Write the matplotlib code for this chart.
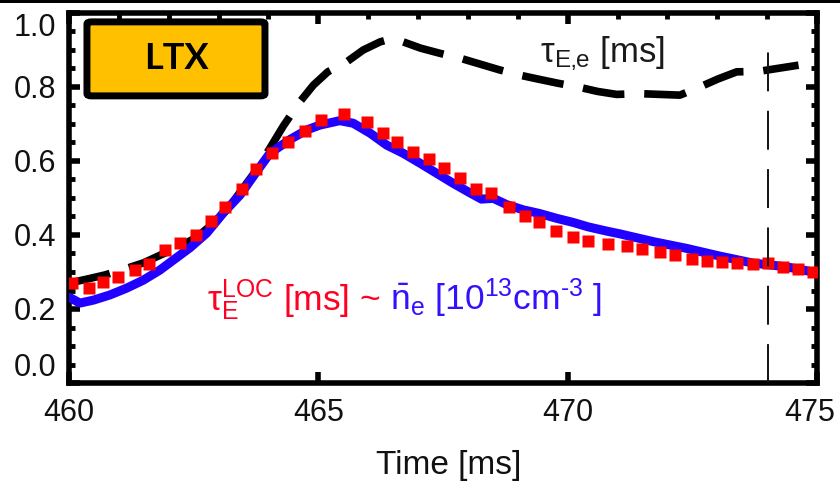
import numpy as np
import matplotlib
matplotlib.use("Agg")
import matplotlib.pyplot as plt
from matplotlib.patches import FancyBboxPatch, Rectangle
from matplotlib.ticker import MultipleLocator
from matplotlib.transforms import ScaledTranslation

plt.rcParams["font.family"] = ["Liberation Sans", "DejaVu Sans"]
plt.rcParams["mathtext.fontset"] = "custom"
plt.rcParams["mathtext.rm"] = "Liberation Sans"
plt.rcParams["mathtext.it"] = "Liberation Sans:italic"
plt.rcParams["mathtext.default"] = "regular"

# tau_E,e [ms] (black dashed)
tau_ee_t = [460.00, 460.40, 460.72, 461.16, 461.50, 461.82, 462.20, 462.55, 462.90,
            463.29, 463.70, 464.03, 464.30, 464.63, 464.90, 465.19, 465.57, 465.90,
            466.24, 466.45, 466.70, 467.05, 467.44, 467.84, 468.24, 468.64, 469.04,
            469.42, 469.81, 470.21, 470.60, 470.98, 471.45, 471.85, 472.25, 472.65,
            473.02, 473.39, 473.82, 474.20, 474.63]
tau_ee = [0.270, 0.282, 0.292, 0.310, 0.325, 0.345, 0.368, 0.393, 0.432,
          0.490, 0.565, 0.635, 0.695, 0.760, 0.805, 0.841, 0.868, 0.900,
          0.922, 0.930, 0.922, 0.905, 0.891, 0.878, 0.862, 0.846, 0.832,
          0.821, 0.810, 0.800, 0.788, 0.780, 0.782, 0.780, 0.778, 0.800,
          0.822, 0.841, 0.842, 0.850, 0.859]

# line-averaged density n_e [1e13 cm^-3] (blue)
ne_t = [460.00, 460.22, 460.49, 460.82, 461.15, 461.49, 461.82, 462.09, 462.43,
        462.76, 463.09, 463.43, 463.76, 464.03, 464.43, 464.77, 465.03, 465.43,
        465.70, 466.04, 466.37, 466.70, 467.04, 467.37, 467.70, 468.00, 468.27,
        468.51, 468.78, 469.11, 469.44, 469.78, 470.11, 470.41, 470.80, 471.05,
        471.72, 472.38, 473.05, 473.72, 474.39, 474.92, 475.00]
ne = [0.232, 0.216, 0.224, 0.238, 0.256, 0.278, 0.305, 0.332, 0.366,
      0.405, 0.459, 0.508, 0.571, 0.621, 0.658, 0.684, 0.697, 0.709,
      0.702, 0.675, 0.643, 0.621, 0.594, 0.567, 0.540, 0.517, 0.497,
      0.499, 0.482, 0.468, 0.458, 0.445, 0.434, 0.422, 0.410, 0.403,
      0.382, 0.364, 0.343, 0.324, 0.314, 0.300, 0.298]

# tau_E^LOC [ms] (red squares)
loc_t = [460.07, 460.41, 460.69, 460.99, 461.32, 461.61, 461.93, 462.23, 462.55,
         462.84, 463.13, 463.46, 463.76, 464.08, 464.40, 464.73, 465.06, 465.51,
         465.97, 466.29, 466.58, 466.90, 467.22, 467.52, 467.85, 468.16, 468.46,
         468.82, 469.14, 469.43, 469.76, 470.11, 470.41, 470.80, 471.19, 471.49,
         471.85, 472.15, 472.49, 472.79, 473.09, 473.39, 473.72, 474.02, 474.32,
         474.62, 474.92]
tau_loc = [0.271, 0.256, 0.274, 0.286, 0.305, 0.322, 0.359, 0.378, 0.400,
           0.438, 0.475, 0.524, 0.578, 0.622, 0.650, 0.681, 0.710, 0.727,
           0.706, 0.675, 0.650, 0.625, 0.605, 0.580, 0.555, 0.524, 0.513,
           0.477, 0.452, 0.436, 0.412, 0.395, 0.385, 0.376, 0.369, 0.362,
           0.355, 0.346, 0.335, 0.331, 0.326, 0.323, 0.321, 0.323, 0.313,
           0.308, 0.301]

t_marker = 474.02
xticks = [460, 465, 470, 475]
yticks = [0.0, 0.2, 0.4, 0.6, 0.8, 1.0]

fig = plt.figure(figsize=(8.4, 4.82), dpi=100)
ax = fig.add_axes([69 / 840, 99 / 482, 748 / 840, 370 / 482])

ax.plot(tau_ee_t, tau_ee, color="black", lw=5.5, linestyle=(0, (5.5, 2.6)), zorder=2)
ax.plot(ne_t, ne, color="#2200ff", lw=6.5, solid_capstyle="round", zorder=3)
ax.plot(loc_t, tau_loc, "s", color="#ff0000", ms=9.3, mec="none", zorder=4)
ax.axvline(t_marker, ymin=0, ymax=0.945, color="#111111", lw=1.4,
           linestyle=(0, (20, 10)), zorder=5)

ax.set_xlim(460, 475)
ax.set_ylim(0, 1.0)
ax.set_xticks(xticks)
ax.set_xticklabels([str(v) for v in xticks])
ax.set_yticks(yticks)
ax.set_yticklabels([f"{v:.1f}" for v in yticks])
ax.xaxis.set_minor_locator(MultipleLocator(1))
ax.yaxis.set_minor_locator(MultipleLocator(0.05))

for sp in ax.spines.values():
    sp.set_linewidth(4)
ax.tick_params(which="both", direction="in", top=True, right=True,
               labelsize=22, labelcolor="#111111")
ax.tick_params(which="major", length=8, width=4)
ax.tick_params(which="minor", length=4.5, width=3.5)
ax.tick_params(axis="x", which="minor", bottom=False)
ax.tick_params(axis="x", which="major", pad=11)
ax.tick_params(axis="y", which="major", pad=9)

yt = ax.yaxis.get_major_ticks()
yt[0].label1.set_va("bottom")
yt[-1].label1.set_va("top")
xt = ax.xaxis.get_major_ticks()
last = xt[-1].label1
last.set_transform(last.get_transform() + ScaledTranslation(-7 / 100, 0, fig.dpi_scale_trans))

ax.set_xlabel("Time [ms]", fontsize=24, color="#111111")
ax.xaxis.set_label_coords(0.507, -0.182)

box = FancyBboxPatch((0.024, 0.776), 0.238, 0.200, transform=ax.transAxes,
                     boxstyle="round,pad=0,rounding_size=0.006",
                     facecolor="#ffc000", edgecolor="black", lw=5, zorder=6)
ax.add_patch(box)
ax.text(0.143, 0.878, "LTX", transform=ax.transAxes, ha="center", va="center",
        fontsize=26, fontweight="bold", family="Lato", color="black", zorder=7)

ax.text(0.63, 0.868, "$\\tau_{E\u201ae}$ [ms]", transform=ax.transAxes,
        ha="left", va="baseline", fontsize=25, color="#1a1a1a", zorder=7)

red = ax.text(0.1845, 0.197, r"$\tau_{E}^{LOC}$ [ms] ~", transform=ax.transAxes,
              ha="left", va="baseline", fontsize=25.5, color="#ff0022", zorder=7)
fig.canvas.draw()
bb = red.get_window_extent()
x_blue = ax.transAxes.inverted().transform((bb.x1 + 9, bb.y0))[0]
ax.text(x_blue, 0.197, "$\\bar{n}_{e}$ [10$^{13}$cm$^{\u20103}$ ]", transform=ax.transAxes,
        ha="left", va="baseline", fontsize=25.5, color="#3311ff", zorder=7)

fig.patches.append(Rectangle((0, 1 - 3 / 482), 1, 3 / 482, transform=fig.transFigure,
                             facecolor="black", edgecolor="none"))

fig.savefig("out.png", dpi=100)
